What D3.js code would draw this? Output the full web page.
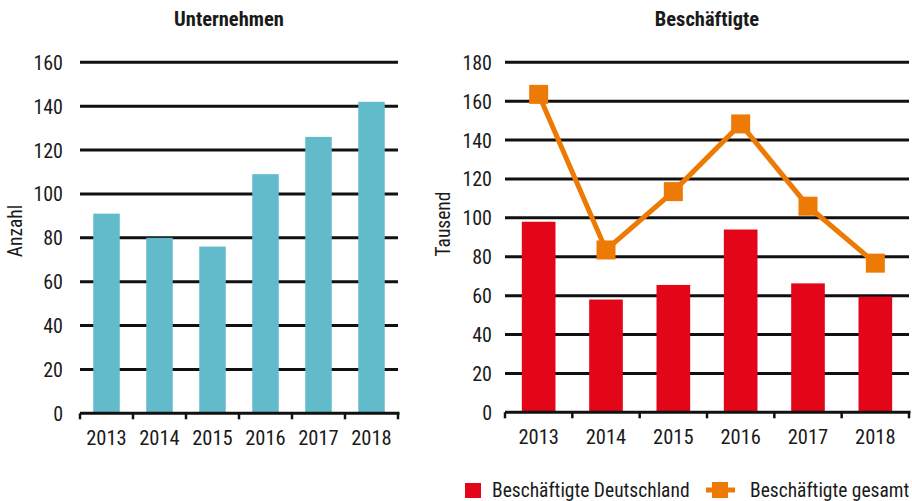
<!DOCTYPE html>
<html><head><meta charset="utf-8">
<script src="https://cdn.jsdelivr.net/npm/d3@7"></script>
<style>
body{margin:0;background:#fff;}
text{font-family:"Liberation Sans Narrow","Roboto Condensed","Liberation Sans",sans-serif;fill:#1a1a1a;}
</style></head><body>
<svg id="c" width="912" height="501"></svg>
<script>
const years = ["2013","2014","2015","2016","2017","2018"];
const unternehmen = [91, 80, 76, 109, 126, 142];
const beschDeutschland = [98, 58, 65.5, 94, 66.3, 59.5];
const beschGesamt = [163.5, 83.5, 113.5, 148.3, 106, 76.7];
const leftTicks = [0,20,40,60,80,100,120,140,160];
const rightTicks = [0,20,40,60,80,100,120,140,160,180];

const svg = d3.select("#c");
const teal = "#62bbca", red = "#e30618", orange = "#ec7a05";

function panel(cfg){
  const g = svg.append("g");
  const x = d3.scaleBand().domain(years).range([cfg.x0, cfg.x1]).paddingInner(0.5).paddingOuter(0.25);
  const y = d3.scaleLinear().domain([0, cfg.max]).range([cfg.y0, cfg.y1]);
  g.selectAll(".grid").data(cfg.ticks.filter(t=>t>0)).join("line")
    .attr("x1", cfg.x0).attr("x2", cfg.x1)
    .attr("y1", d=>y(d)).attr("y2", d=>y(d))
    .attr("stroke","#111").attr("stroke-width",3);
  g.selectAll(".yl").data(cfg.ticks).join("text")
    .attr("x", cfg.x0 - cfg.lo).attr("y", d=>y(d)+7.5)
    .attr("text-anchor","end").attr("font-size",20).text(d=>d);
  g.selectAll(".bar").data(cfg.bars).join("rect")
    .attr("x",(d,i)=>x(years[i])).attr("width",x.bandwidth())
    .attr("y",d=>y(d)).attr("height",d=>y(0)-y(d))
    .attr("fill",cfg.color);
  g.append("line").attr("x1",cfg.x0).attr("x2",cfg.x1+1.5).attr("y1",y(0)).attr("y2",y(0))
    .attr("stroke","#111").attr("stroke-width",3);
  const bounds = years.map((d,i)=>cfg.x0 + i*(cfg.x1-cfg.x0)/years.length).concat([cfg.x1]);
  g.selectAll(".tk").data(bounds).join("line")
    .attr("x1",d=>d).attr("x2",d=>d).attr("y1",y(0)).attr("y2",y(0)+6)
    .attr("stroke","#111").attr("stroke-width",2.5);
  g.selectAll(".xl").data(years).join("text")
    .attr("x",d=>x(d)+x.bandwidth()/2).attr("y",y(0)+31.5)
    .attr("text-anchor","middle").attr("font-size",20.5).text(d=>d);
  g.append("text").attr("x",cfg.tx).attr("y",26).attr("text-anchor","middle")
    .attr("font-size",20.5).attr("font-weight","bold").text(cfg.title);
  g.append("text").attr("transform",`translate(${cfg.lx},${cfg.ly}) rotate(-90)`)
    .attr("text-anchor","middle").attr("font-size",19.5).text(cfg.ylabel);
  return {x,y,g};
}

panel({x0:80,x1:398,y0:413.3,y1:62.3,max:160,ticks:leftTicks,bars:unternehmen,color:teal,lo:17,
  title:"Unternehmen",tx:229,ylabel:"Anzahl",lx:22,ly:231});
const R = panel({x0:505,x1:909,y0:412.3,y1:62.3,max:180,ticks:rightTicks,bars:beschDeutschland,color:red,lo:13,
  title:"Beschäftigte",tx:707,ylabel:"Tausend",lx:450,ly:224});

const line = d3.line().x((d,i)=>R.x(years[i])+R.x.bandwidth()/2).y(d=>R.y(d));
R.g.append("path").datum(beschGesamt).attr("d",line).attr("fill","none")
  .attr("stroke",orange).attr("stroke-width",5).attr("stroke-linejoin","miter");
R.g.selectAll(".mk").data(beschGesamt).join("rect")
  .attr("x",(d,i)=>R.x(years[i])+R.x.bandwidth()/2-9.5).attr("y",d=>R.y(d)-9.5)
  .attr("width",19).attr("height",19).attr("fill",orange);

const lg = svg.append("g");
lg.append("rect").attr("x",465).attr("y",483).attr("width",16).attr("height",15).attr("fill",red);
lg.append("text").attr("x",492).attr("y",497).attr("font-size",19.5).text("Beschäftigte Deutschland");
lg.append("line").attr("x1",706).attr("x2",735).attr("y1",490).attr("y2",490).attr("stroke",orange).attr("stroke-width",5);
lg.append("rect").attr("x",712).attr("y",482).attr("width",16).attr("height",16).attr("fill",orange);
lg.append("text").attr("x",750).attr("y",497).attr("font-size",19.5).text("Beschäftigte gesamt");
</script></body></html>
